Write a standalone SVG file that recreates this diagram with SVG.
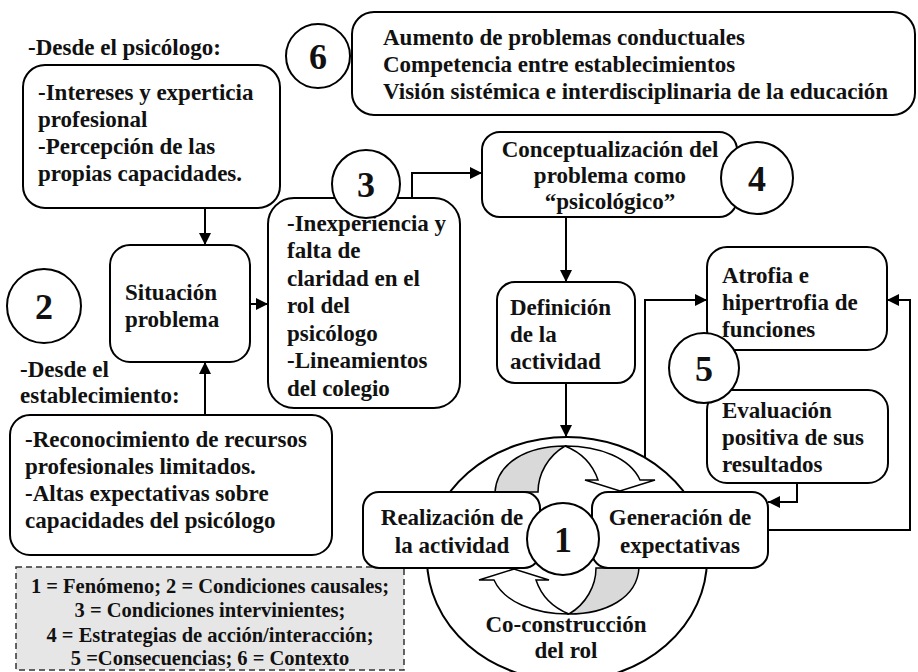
<svg xmlns="http://www.w3.org/2000/svg" width="918" height="672" viewBox="0 0 918 672">
<style>
.box{fill:#fff;stroke:#000;stroke-width:2}
.t{font-family:"Liberation Serif","Times New Roman",serif;font-weight:bold;font-size:23px;fill:#111}
.c{text-anchor:middle}
.num{font-family:"Liberation Serif","Times New Roman",serif;font-weight:bold;font-size:36px;fill:#111;text-anchor:middle}
.lg{font-family:"Liberation Serif","Times New Roman",serif;font-weight:bold;font-size:20.5px;fill:#111;text-anchor:middle}
.conn{fill:none;stroke:#000;stroke-width:2}
.cres{stroke:#000;stroke-width:1.5}
</style>
<defs>
<marker id="ah" markerUnits="userSpaceOnUse" markerWidth="12" markerHeight="12" viewBox="0 0 12 12" refX="12" refY="6" orient="auto">
<path d="M0,0 L12,6 L0,12 Z" fill="#000"/>
</marker>
</defs>
<rect x="0" y="0" width="918" height="672" fill="#fff"/>

<g id="ring">
<ellipse cx="567" cy="559" rx="140" ry="122" fill="#fff" stroke="#000" stroke-width="2"/>
<g id="cycle-arrows">
<path class="cres" fill="#d9d9d9" d="M495,492 C497,462 528,446 565,446 C548,456 538,474 538,492 Z"/>
<path class="cres" fill="#fff" d="M565,446 C600,446 630,458 640,480 L655,480 L620,491 L585,480 L598,480 C592,462 580,452 565,446 Z"/>
<g transform="rotate(180 567 530)">
<path class="cres" fill="#d9d9d9" d="M495,492 C497,462 528,446 565,446 C548,456 538,474 538,492 Z"/>
<path class="cres" fill="#fff" d="M565,446 C600,446 630,458 640,480 L655,480 L620,491 L585,480 L598,480 C592,462 580,452 565,446 Z"/>
</g>
</g>
<text class="t c" x="566" y="632">Co-construcción</text>
<text class="t c" x="566" y="658">del rol</text>
</g>

<g id="connectors">
<line class="conn" x1="205" y1="208" x2="205" y2="245" marker-end="url(#ah)"/>
<line class="conn" x1="205" y1="415" x2="205" y2="362" marker-end="url(#ah)"/>
<line class="conn" x1="250" y1="304" x2="268" y2="304" marker-end="url(#ah)"/>
<polyline class="conn" points="412,198 412,173 482,173" marker-end="url(#ah)"/>
<line class="conn" x1="566" y1="217" x2="566" y2="282" marker-end="url(#ah)"/>
<line class="conn" x1="566" y1="383" x2="566" y2="437" marker-end="url(#ah)"/>
<polyline class="conn" points="645,458 645,300 707,300" marker-end="url(#ah)"/>
<polyline class="conn" points="797,483 797,502 768,502" marker-end="url(#ah)"/>
<polyline class="conn" points="768,530 910,530 910,300 887,300" marker-end="url(#ah)"/>
</g>

<g id="title-psicologo">
<text class="t" x="28" y="55">-Desde el psicólogo:</text>
</g>
<g id="box-psicologo">
<rect class="box" x="23" y="65" width="257" height="143" rx="22"/>
<text class="t" x="38" y="100">-Intereses y experticia</text>
<text class="t" x="38" y="127">profesional</text>
<text class="t" x="38" y="154">-Percepción de las</text>
<text class="t" x="38" y="181">propias capacidades.</text>
</g>

<g id="circle-6">
<circle cx="318" cy="56" r="32" fill="#fff" stroke="#000" stroke-width="2"/>
<text class="num" x="318" y="69">6</text>
</g>
<g id="box-contexto">
<rect class="box" x="352" y="12" width="563" height="103" rx="22"/>
<text class="t" x="383" y="45">Aumento de problemas conductuales</text>
<text class="t" x="383" y="72">Competencia entre establecimientos</text>
<text class="t" x="383" y="99">Visión sistémica e interdisciplinaria de la educación</text>
</g>

<g id="circle-2">
<circle cx="44" cy="306" r="37" fill="#fff" stroke="#000" stroke-width="2"/>
<text class="num" x="44" y="319">2</text>
</g>

<g id="box-situacion">
<rect class="box" x="110" y="245" width="140" height="117" rx="20"/>
<text class="t" x="125" y="300">Situación</text>
<text class="t" x="125" y="327">problema</text>
</g>

<g id="title-establecimiento">
<text class="t" x="20" y="377">-Desde el</text>
<text class="t" x="20" y="403">establecimiento:</text>
</g>
<g id="box-establecimiento">
<rect class="box" x="10" y="415" width="322" height="140" rx="20"/>
<text class="t" x="25" y="447">-Reconocimiento de recursos</text>
<text class="t" x="25" y="474">profesionales limitados.</text>
<text class="t" x="25" y="501">-Altas expectativas sobre</text>
<text class="t" x="25" y="528">capacidades del psicólogo</text>
</g>

<g id="legend">
<rect x="16" y="567" width="388" height="103" fill="#e6e6e6" stroke="#333" stroke-width="1.5" stroke-dasharray="6,4"/>
<text class="lg" x="210" y="593">1 = Fenómeno; 2 = Condiciones causales;</text>
<text class="lg" x="210" y="617">3 = Condiciones intervinientes;</text>
<text class="lg" x="210" y="642">4 = Estrategias de acción/interacción;</text>
<text class="lg" x="210" y="665">5 =Consecuencias; 6 = Contexto</text>
</g>

<g id="box-intervinientes">
<rect class="box" x="268" y="198" width="192" height="210" rx="26"/>
<text class="t" x="287" y="231">-Inexperiencia y</text>
<text class="t" x="287" y="258">falta de</text>
<text class="t" x="287" y="286">claridad en el</text>
<text class="t" x="287" y="313">rol del</text>
<text class="t" x="287" y="341">psicólogo</text>
<text class="t" x="287" y="368">-Lineamientos</text>
<text class="t" x="287" y="396">del colegio</text>
</g>
<g id="circle-3">
<circle cx="366" cy="184" r="34" fill="#fff" stroke="#000" stroke-width="2"/>
<text class="num" x="366" y="197">3</text>
</g>

<g id="box-conceptualizacion">
<rect class="box" x="482" y="132" width="255" height="85" rx="18"/>
<text class="t c" x="610" y="157">Conceptualización del</text>
<text class="t c" x="610" y="183">problema como</text>
<text class="t c" x="610" y="209">“psicológico”</text>
</g>
<g id="circle-4">
<circle cx="757" cy="178" r="36" fill="#fff" stroke="#000" stroke-width="2"/>
<text class="num" x="757" y="191">4</text>
</g>

<g id="box-definicion">
<rect class="box" x="497" y="282" width="138" height="101" rx="18"/>
<text class="t" x="510" y="315">Definición</text>
<text class="t" x="510" y="342">de la</text>
<text class="t" x="510" y="369">actividad</text>
</g>

<g id="box-atrofia">
<rect class="box" x="707" y="247" width="180" height="103" rx="20"/>
<text class="t" x="722" y="283">Atrofia e</text>
<text class="t" x="722" y="310">hipertrofia de</text>
<text class="t" x="722" y="337">funciones</text>
</g>
<g id="box-evaluacion">
<rect class="box" x="707" y="390" width="181" height="93" rx="20"/>
<text class="t" x="722" y="418">Evaluación</text>
<text class="t" x="722" y="445">positiva de sus</text>
<text class="t" x="722" y="472">resultados</text>
</g>
<g id="circle-5">
<circle cx="704" cy="368" r="35" fill="#fff" stroke="#000" stroke-width="2"/>
<text class="num" x="704" y="381">5</text>
</g>

<g id="box-realizacion">
<rect class="box" x="363" y="492" width="177" height="76" rx="16"/>
<text class="t c" x="452" y="525">Realización de</text>
<text class="t c" x="452" y="553">la actividad</text>
</g>
<g id="box-generacion">
<rect class="box" x="592" y="492" width="176" height="76" rx="16"/>
<text class="t c" x="680" y="525">Generación de</text>
<text class="t c" x="680" y="553">expectativas</text>
</g>
<g id="circle-1">
<circle cx="563" cy="539" r="36" fill="#fff" stroke="#000" stroke-width="2"/>
<text class="num" x="563" y="552">1</text>
</g>
</svg>
